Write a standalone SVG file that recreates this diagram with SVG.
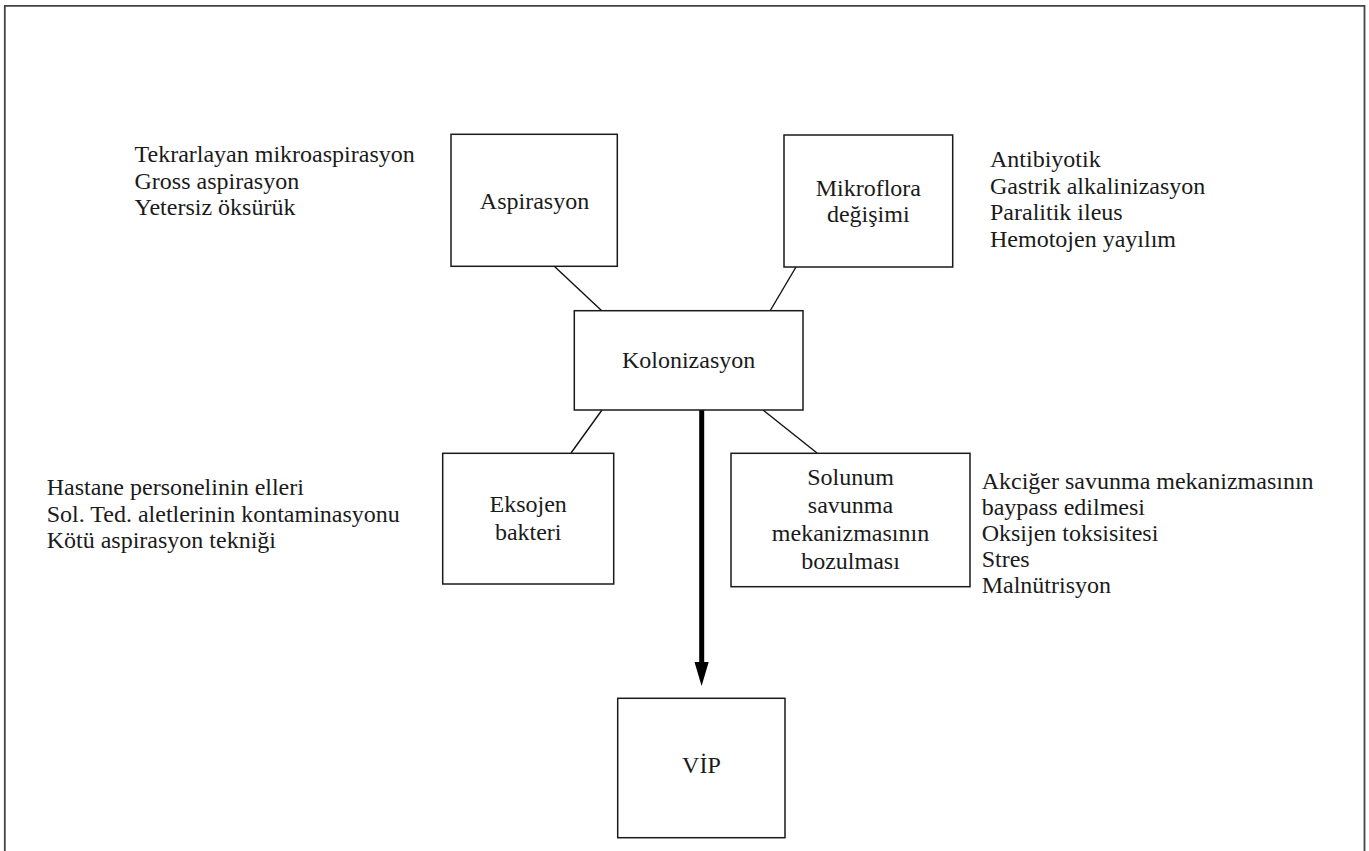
<svg xmlns="http://www.w3.org/2000/svg" width="1369" height="851" viewBox="0 0 1369 851">
<style>
  .box { fill: #ffffff; stroke: #1a1a1a; stroke-width: 1.5; }
  .t { font-family: "Liberation Serif", "Times New Roman", serif; font-size: 24px; fill: #1a1a1a; }
  .c { text-anchor: middle; }
  .conn { stroke: #111111; stroke-width: 1.4; fill: none; }
</style>
<rect x="0" y="0" width="1369" height="851" fill="#ffffff"/>
<polyline points="4.8,851 4.8,5.8 1364.5,5.8 1364.5,851" fill="none" stroke="#444444" stroke-width="1.8"/>

<g id="connectors">
  <line class="conn" x1="554" y1="266" x2="602" y2="311"/>
  <line class="conn" x1="796" y1="267" x2="770" y2="311"/>
  <line class="conn" x1="602" y1="410" x2="571" y2="453"/>
  <line class="conn" x1="763" y1="410" x2="817" y2="453"/>
  <rect x="699.2" y="410" width="5" height="253" fill="#000000"/>
  <polygon points="694.5,662 708.7,662 701.6,686" fill="#000000"/>
</g>

<g id="aspirasyon">
  <rect class="box" x="451" y="134.3" width="166.3" height="132"/>
  <text class="t c" x="534.5" y="208.5">Aspirasyon</text>
</g>
<g id="aspirasyon-notes">
  <text class="t" x="134.5" y="162.3">Tekrarlayan mikroaspirasyon</text>
  <text class="t" x="134.5" y="188.8">Gross aspirasyon</text>
  <text class="t" x="134.5" y="215">Yetersiz öksürük</text>
</g>

<g id="mikroflora">
  <rect class="box" x="784" y="135" width="168.7" height="132"/>
  <text class="t c" x="868.3" y="196">Mikroflora</text>
  <text class="t c" x="868.3" y="222">değişimi</text>
</g>
<g id="mikroflora-notes">
  <text class="t" x="990" y="166.5">Antibiyotik</text>
  <text class="t" x="990" y="193.5">Gastrik alkalinizasyon</text>
  <text class="t" x="990" y="220">Paralitik ileus</text>
  <text class="t" x="990" y="246.5">Hemotojen yayılım</text>
</g>

<g id="kolonizasyon">
  <rect class="box" x="574.3" y="310.7" width="228.7" height="99.3"/>
  <text class="t c" x="688.6" y="368">Kolonizasyon</text>
</g>

<g id="eksojen">
  <rect class="box" x="442.7" y="453.3" width="171" height="130.7"/>
  <text class="t c" x="528.2" y="512">Eksojen</text>
  <text class="t c" x="528.2" y="539.5">bakteri</text>
</g>
<g id="eksojen-notes">
  <text class="t" x="46.7" y="495">Hastane personelinin elleri</text>
  <text class="t" x="46.7" y="521.5">Sol. Ted. aletlerinin kontaminasyonu</text>
  <text class="t" x="46.7" y="548">Kötü aspirasyon tekniği</text>
</g>

<g id="solunum">
  <rect class="box" x="731" y="453.3" width="239" height="133.4"/>
  <text class="t c" x="850.5" y="485">Solunum</text>
  <text class="t c" x="850.5" y="513">savunma</text>
  <text class="t c" x="850.5" y="540.5">mekanizmasının</text>
  <text class="t c" x="850.5" y="568.5">bozulması</text>
</g>
<g id="solunum-notes">
  <text class="t" x="981.7" y="489">Akciğer savunma mekanizmasının</text>
  <text class="t" x="981.7" y="515">baypass edilmesi</text>
  <text class="t" x="981.7" y="541">Oksijen toksisitesi</text>
  <text class="t" x="981.7" y="567">Stres</text>
  <text class="t" x="981.7" y="593">Malnütrisyon</text>
</g>

<g id="vip">
  <rect class="box" x="617.7" y="698.3" width="167.3" height="139.4"/>
  <text class="t c" x="701.4" y="773">VİP</text>
</g>
</svg>
